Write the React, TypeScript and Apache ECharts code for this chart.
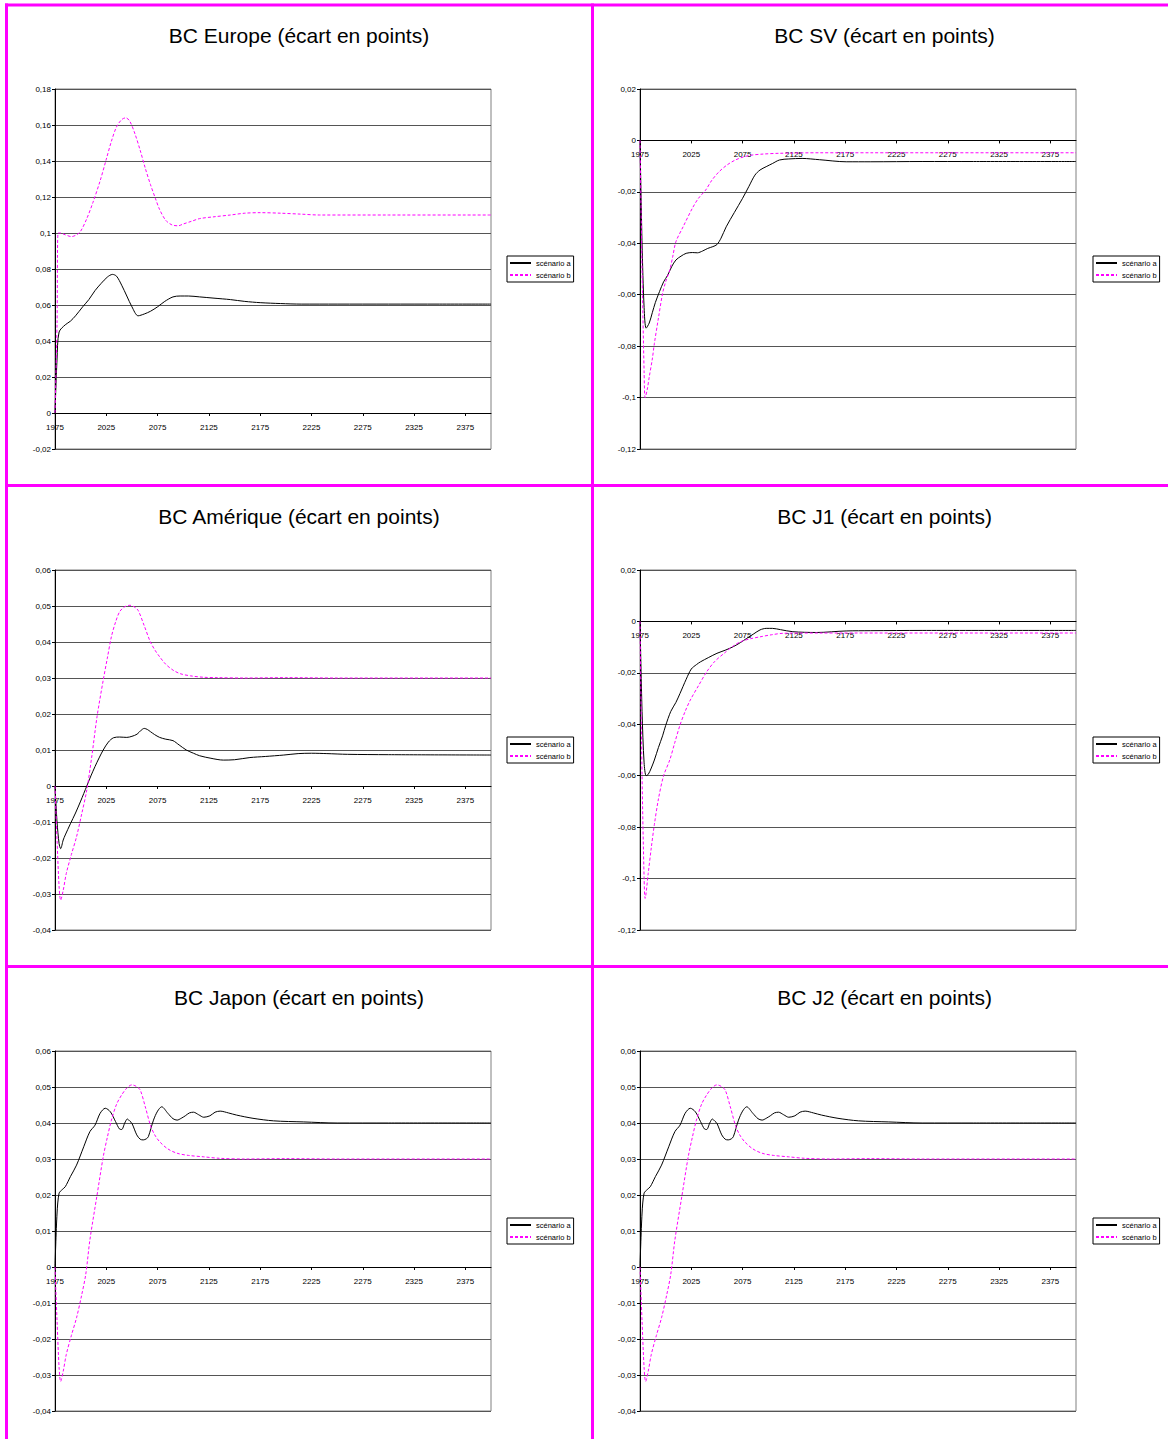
import React, { useEffect, useRef } from "react";
import * as echarts from "echarts";

// ---------- data ----------
const xTicks = [1975, 2025, 2075, 2125, 2175, 2225, 2275, 2325, 2375];
const seriesNames = ["scénario a", "scénario b"];

const europeYearsA = [1975, 1977, 1979, 1985, 1990, 1995, 2002, 2008, 2014, 2020, 2026, 2031, 2035, 2040, 2045, 2050, 2056, 2062, 2068, 2075, 2082, 2090, 2097, 2105, 2116, 2130, 2146, 2160, 2175, 2195, 2215, 2250, 2300, 2350, 2400];
const europeA = [0, 0.03, 0.045, 0.049, 0.051, 0.054, 0.059, 0.063, 0.068, 0.072, 0.0755, 0.077, 0.076, 0.071, 0.065, 0.059, 0.054, 0.055, 0.0565, 0.059, 0.062, 0.0645, 0.065, 0.065, 0.0645, 0.0638, 0.063, 0.062, 0.0613, 0.0608, 0.0605, 0.0605, 0.0605, 0.0605, 0.0605];
const europeYearsB = [1975, 1977, 1978, 1980, 1985, 1991, 1996, 2000, 2006, 2012, 2019, 2025, 2030, 2035, 2040, 2044, 2048, 2053, 2058, 2063, 2068, 2073, 2077, 2083, 2089, 2095, 2100, 2108, 2116, 2130, 2146, 2160, 2175, 2195, 2214, 2233, 2300, 2400];
const europeB = [0, 0.05, 0.1, 0.1, 0.099, 0.098, 0.099, 0.101, 0.108, 0.117, 0.129, 0.141, 0.151, 0.159, 0.163, 0.164, 0.162, 0.155, 0.146, 0.136, 0.127, 0.119, 0.113, 0.107, 0.1045, 0.104, 0.105, 0.1065, 0.108, 0.109, 0.11, 0.111, 0.1113, 0.111, 0.1105, 0.11, 0.11, 0.11];

const svYearsA = [1975, 1977, 1979, 1981, 1984, 1987, 1990, 1994, 1998, 2002, 2006, 2010, 2015, 2020, 2026, 2031, 2036, 2041, 2046, 2050, 2054, 2059, 2067, 2075, 2081, 2087, 2092, 2098, 2104, 2111, 2120, 2133, 2150, 2176, 2200, 2250, 2300, 2400];
const svA = [0, -0.04, -0.065, -0.073, -0.071, -0.067, -0.063, -0.0588, -0.055, -0.0524, -0.049, -0.0465, -0.045, -0.0439, -0.0436, -0.0437, -0.043, -0.042, -0.0413, -0.0405, -0.038, -0.0336, -0.028, -0.0225, -0.018, -0.0135, -0.0115, -0.0102, -0.009, -0.0076, -0.0072, -0.007, -0.0075, -0.0083, -0.0083, -0.0082, -0.0082, -0.0082];
const svYearsB = [1975, 1977, 1979, 1980, 1982, 1984, 1987, 1989, 1993, 1997, 2000, 2004, 2007, 2010, 2017, 2026, 2032, 2039, 2045, 2052, 2060, 2068, 2076, 2084, 2095, 2111, 2150, 2200, 2400];
const svB = [0, -0.05, -0.09, -0.1, -0.097, -0.092, -0.085, -0.079, -0.069, -0.0595, -0.055, -0.0504, -0.045, -0.0394, -0.0336, -0.0264, -0.0225, -0.0193, -0.0155, -0.0122, -0.0095, -0.0076, -0.0064, -0.0057, -0.0053, -0.005, -0.0048, -0.0048, -0.0048];

const ameriqueYearsA = [1975, 1977, 1979, 1980.5, 1983, 1985, 1990, 1995, 2000, 2006, 2010, 2014, 2018, 2022, 2027, 2032, 2038, 2045, 2050, 2055, 2059, 2062, 2065, 2068, 2072, 2077, 2083, 2090, 2096, 2103, 2110, 2116, 2127, 2139, 2150, 2165, 2180, 2198, 2212, 2225, 2240, 2260, 2300, 2400];
const ameriqueA = [0, -0.01, -0.016, -0.0174, -0.015, -0.0136, -0.0105, -0.0075, -0.0042, 0, 0.0028, 0.0054, 0.0078, 0.01, 0.0122, 0.0134, 0.0136, 0.0135, 0.0138, 0.0144, 0.0155, 0.016, 0.0157, 0.0151, 0.0143, 0.0135, 0.013, 0.0126, 0.0114, 0.01, 0.0091, 0.0084, 0.0077, 0.0072, 0.0073, 0.0079, 0.0082, 0.0086, 0.009, 0.0091, 0.009, 0.0088, 0.0087, 0.0086];
const ameriqueYearsB = [1975, 1977, 1979, 1980.5, 1983, 1986, 1991, 1996, 2001, 2006, 2011, 2016, 2022, 2026, 2030, 2034, 2038, 2043, 2048, 2052, 2056, 2062, 2068, 2073, 2077, 2083, 2090, 2097, 2107, 2120, 2133, 2160, 2200, 2250, 2400];
const ameriqueB = [0, -0.015, -0.028, -0.0317, -0.029, -0.0243, -0.019, -0.0141, -0.0078, -0.0011, 0.0085, 0.0193, 0.0294, 0.0355, 0.0415, 0.0455, 0.0484, 0.0498, 0.0502, 0.0498, 0.0488, 0.0445, 0.04, 0.0375, 0.0359, 0.0338, 0.0322, 0.0312, 0.0306, 0.0302, 0.0301, 0.03, 0.0301, 0.03, 0.03];

const j1YearsA = [1975, 1977, 1979, 1981, 1983, 1986, 1989, 1993, 1997, 2000, 2005, 2010, 2014, 2020, 2025, 2030, 2034, 2042, 2050, 2058, 2066, 2073, 2079, 2086, 2092, 2098, 2104, 2112, 2124, 2147, 2176, 2200, 2250, 2400];
const j1A = [0, -0.035, -0.055, -0.06, -0.0595, -0.057, -0.0539, -0.049, -0.0445, -0.0405, -0.035, -0.0315, -0.028, -0.0225, -0.0185, -0.0168, -0.0157, -0.014, -0.0124, -0.0112, -0.0098, -0.0082, -0.0066, -0.0048, -0.0033, -0.0027, -0.0027, -0.0032, -0.004, -0.0043, -0.0037, -0.0036, -0.0035, -0.0035];
const j1YearsB = [1975, 1977, 1979, 1980, 1983, 1986, 1989, 1993, 1998, 2004, 2009, 2014, 2019, 2024, 2032, 2040, 2048, 2057, 2065, 2073, 2083, 2092, 2103, 2115, 2150, 2400];
const j1B = [0, -0.06, -0.1, -0.1077, -0.098, -0.088, -0.079, -0.069, -0.06, -0.0539, -0.047, -0.0403, -0.035, -0.0306, -0.025, -0.0196, -0.0155, -0.0124, -0.0098, -0.0079, -0.0067, -0.006, -0.0052, -0.0046, -0.0045, -0.0045];

const japonYearsA = [1975, 1977, 1979, 1982, 1985, 1990, 1996, 2003, 2009, 2014, 2019, 2024, 2029, 2034, 2038, 2040, 2043, 2045.5, 2048, 2050, 2054.7, 2058, 2061, 2064, 2066, 2071, 2075, 2079, 2085, 2090, 2094, 2098, 2102, 2106, 2110, 2115, 2120, 2126, 2131, 2136, 2144, 2152, 2168, 2188, 2217, 2250, 2300, 2400];
const japonA = [0, 0.015, 0.0205, 0.0215, 0.0223, 0.0251, 0.0283, 0.0334, 0.0376, 0.0394, 0.0427, 0.0441, 0.0431, 0.0404, 0.0383, 0.0382, 0.04, 0.0411, 0.0405, 0.0399, 0.0367, 0.0355, 0.0353, 0.0356, 0.0362, 0.0408, 0.0433, 0.0445, 0.0427, 0.0412, 0.0408, 0.0413, 0.042, 0.0428, 0.043, 0.0423, 0.0416, 0.042, 0.043, 0.0433, 0.0428, 0.0422, 0.0413, 0.0406, 0.0403, 0.04, 0.04, 0.04];
const japonYearsB = [1975, 1977, 1979, 1980.5, 1983, 1986, 1991, 1996, 2001, 2005, 2009, 2016, 2022, 2026, 2030, 2035, 2040, 2045, 2050, 2054, 2058, 2063, 2068, 2072, 2077, 2085, 2094, 2105, 2120, 2135, 2160, 2200, 2250, 2400];
const japonB = [0, -0.015, -0.028, -0.0318, -0.029, -0.0243, -0.019, -0.0141, -0.0078, -0.002, 0.0075, 0.02, 0.0306, 0.036, 0.0408, 0.0452, 0.0478, 0.0497, 0.0506, 0.0502, 0.0492, 0.0445, 0.0394, 0.0368, 0.0348, 0.0328, 0.0316, 0.031, 0.0306, 0.0302, 0.03, 0.0301, 0.03, 0.03];

const titles = [
  "BC Europe (écart en points)",
  "BC SV (écart en points)",
  "BC Amérique (écart en points)",
  "BC J1 (écart en points)",
  "BC Japon (écart en points)",
  "BC J2 (écart en points)",
];
const yMins = [-0.02, -0.12, -0.04, -0.12, -0.04, -0.04];
const yMaxs = [0.18, 0.02, 0.06, 0.02, 0.06, 0.06];
const yIntervals = [0.02, 0.02, 0.01, 0.02, 0.01, 0.01];

const panelData = [
  [europeYearsA, europeA, europeYearsB, europeB],
  [svYearsA, svA, svYearsB, svB],
  [ameriqueYearsA, ameriqueA, ameriqueYearsB, ameriqueB],
  [j1YearsA, j1A, j1YearsB, j1B],
  [japonYearsA, japonA, japonYearsB, japonB],
  [japonYearsA, japonA, japonYearsB, japonB],
];

// ---------- layout ----------
const FONT = "'Liberation Sans', Arial, sans-serif";
const GRID_W = 436;
const GRID_H = 360;
const colLefts = [55, 640];
const rowTops = [89, 570, 1051];
const titleCenters = [299, 884.5];
const titleYs = [35, 516, 997];
const legendLefts = [507, 1093];
const legendTops = [256, 737, 1218];
const MAGENTA = "#FF00FF";

const zip = (xs: number[], ys: number[]) => xs.map((x, i) => [x, ys[i]]);
const fmtY = (v: number) => String(Number(v.toFixed(4))).replace(".", ",");

export default function App() {
  const ref = useRef<HTMLDivElement>(null);
  useEffect(() => {
    if (!ref.current) return;
    const chart = echarts.init(ref.current, undefined, { renderer: "svg" });
    const grid: any[] = [];
    const xAxis: any[] = [];
    const yAxis: any[] = [];
    const series: any[] = [];
    const legend: any[] = [];
    const graphic: any[] = [];

    for (let i = 0; i < 6; i++) {
      const col = i % 2;
      const row = Math.floor(i / 2);
      grid.push({
        left: colLefts[col],
        top: rowTops[row],
        width: GRID_W,
        height: GRID_H,
        show: true,
        borderColor: "#808080",
        borderWidth: 1,
      });
      // x axis sits on the zero line of the y axis
      const zeroOffset = -((0 - yMins[i]) / (yMaxs[i] - yMins[i])) * GRID_H;
      xAxis.push({
        type: "value",
        gridIndex: i,
        position: "bottom",
        offset: zeroOffset,
        min: xTicks[0],
        max: 2400,
        interval: 50,
        axisLine: { onZero: false, lineStyle: { color: "#000", width: 1 } },
        axisTick: { show: true, length: 3, lineStyle: { color: "#000" } },
        axisLabel: {
          fontSize: 8,
          color: "#000",
          fontFamily: FONT,
          margin: 10,
          showMaxLabel: false,
          showMinLabel: true,
          formatter: (v: number) => String(v),
        },
        splitLine: { show: false },
      });
      yAxis.push({
        type: "value",
        gridIndex: i,
        min: yMins[i],
        max: yMaxs[i],
        interval: yIntervals[i],
        axisLine: { show: true, onZero: false, lineStyle: { color: "#000", width: 1 } },
        axisTick: { show: true, length: 3, lineStyle: { color: "#000" } },
        axisLabel: { fontSize: 8, color: "#000", fontFamily: FONT, margin: 4, formatter: fmtY },
        splitLine: { show: true, lineStyle: { color: "#555", width: 1 } },
      });
      const [ya, va, yb, vb] = panelData[i];
      series.push({
        type: "line",
        name: seriesNames[0],
        xAxisIndex: i,
        yAxisIndex: i,
        data: zip(ya, va),
        symbol: "none",
        smooth: 0.3,
        lineStyle: { color: "#000", width: 1 },
        itemStyle: { color: "#000" },
      });
      series.push({
        type: "line",
        name: seriesNames[1],
        xAxisIndex: i,
        yAxisIndex: i,
        data: zip(yb, vb),
        symbol: "none",
        smooth: 0.3,
        lineStyle: { color: MAGENTA, width: 1, type: [3, 2] },
        itemStyle: { color: MAGENTA },
      });
      legend.push({
        left: legendLefts[col],
        top: legendTops[row],
        orient: "vertical",
        data: seriesNames,
        itemWidth: 21,
        itemHeight: 8,
        itemGap: 4,
        padding: [3, 3, 3, 2],
        borderColor: "#000",
        borderWidth: 1,
        selectedMode: false,
        itemStyle: { opacity: 0 },
        textStyle: { fontSize: 7.5, color: "#000", fontFamily: FONT },
      });
      graphic.push({
        type: "text",
        x: titleCenters[col],
        y: titleYs[row],
        style: {
          text: titles[i],
          align: "center",
          verticalAlign: "middle",
          font: `21px ${FONT}`,
          fill: "#000",
        },
      });
    }

    // magenta panel borders
    const borders = [
      { x: 5, y: 3.5, w: 1163, h: 3 },
      { x: 5, y: 484, w: 1163, h: 3 },
      { x: 5, y: 965, w: 1163, h: 3 },
      { x: 5, y: 3.5, w: 3, h: 1436 },
      { x: 591, y: 3.5, w: 3, h: 1436 },
    ];
    borders.forEach((b) =>
      graphic.push({
        type: "rect",
        shape: { x: b.x, y: b.y, width: b.w, height: b.h },
        style: { fill: MAGENTA },
        silent: true,
      })
    );

    chart.setOption({
      animation: false,
      backgroundColor: "#fff",
      grid,
      xAxis,
      yAxis,
      series,
      legend,
      graphic,
    });
    return () => chart.dispose();
  }, []);
  return (
    <div
      ref={ref}
      style={{ position: "absolute", left: 0, top: 0, width: 1168, height: 1439 }}
    />
  );
}
